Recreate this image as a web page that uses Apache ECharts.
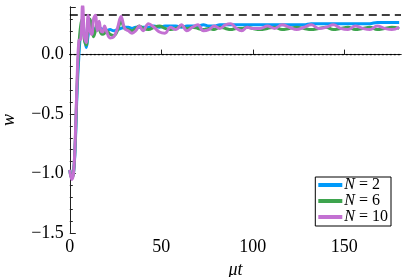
<!DOCTYPE html>
<html><head><meta charset="utf-8">
<script src="https://cdn.jsdelivr.net/npm/echarts@6/dist/echarts.min.js"></script>
<style>html,body{margin:0;padding:0;background:#fff}#c{width:415px;height:277px}</style>
</head><body><div id="c"></div>
<script>
const times = [0,1,2,3,4,5,6,7,8,9,10,11,12,13,14,15,16,17,18,19,20,
22,24,26,28,30,32,34,36,38,40,
43,46,49,52,55,58,61,64,67,70,73,76,79,82,85,88,91,94,97,100,
104,108,112,116,120,124,128,132,136,140,144,148,152,156,160,164,168,172,176,180];
const wN2 = [-0.97,-1.03,-1.0,-0.75,-0.3,0.0,0.2,0.28,0.15,0.06,0.16,0.24,0.23,0.22,0.21,0.21,0.21,0.22,0.21,0.2,0.2,
0.21,0.2,0.21,0.22,0.23,0.23,0.22,0.23,0.23,0.23,
0.23,0.24,0.23,0.24,0.24,0.24,0.23,0.24,0.24,0.24,0.25,0.24,0.24,0.25,0.25,0.25,0.25,0.25,0.25,0.25,
0.25,0.25,0.25,0.25,0.25,0.25,0.25,0.26,0.26,0.26,0.26,0.26,0.26,0.26,0.26,0.26,0.27,0.27,0.27,0.27];
const wN6 = [-0.97,-1.04,-1.0,-0.72,-0.25,0.08,0.25,0.3,0.12,0.08,0.25,0.3,0.22,0.15,0.2,0.27,0.22,0.18,0.17,0.18,0.2,
0.17,0.16,0.2,0.28,0.22,0.21,0.2,0.22,0.24,0.22,
0.21,0.23,0.24,0.22,0.21,0.22,0.24,0.22,0.23,0.22,0.21,0.22,0.21,0.23,0.22,0.21,0.22,0.22,0.23,0.22,
0.21,0.22,0.23,0.21,0.22,0.23,0.22,0.21,0.22,0.23,0.21,0.22,0.23,0.21,0.22,0.23,0.21,0.22,0.23,0.22];
const wN10 = [-0.97,-1.05,-1.0,-0.7,-0.2,0.12,0.13,0.42,0.15,0.1,0.33,0.2,0.17,0.3,0.33,0.2,0.28,0.2,0.19,0.24,0.2,
0.14,0.15,0.22,0.32,0.22,0.2,0.18,0.2,0.24,0.2,
0.26,0.23,0.19,0.18,0.23,0.21,0.25,0.2,0.23,0.25,0.2,0.21,0.24,0.22,0.25,0.26,0.22,0.2,0.23,0.22,
0.22,0.24,0.22,0.25,0.23,0.21,0.23,0.25,0.22,0.23,0.25,0.22,0.21,0.24,0.22,0.21,0.24,0.22,0.21,0.23];
const seriesNames = ['N = 2','N = 6','N = 10'];
const seriesColors = ['#009AFA','#3EA44E','#C371D2'];
const dashedLevel = 1/3;
const dottedLevel = 0;
const xTicks = [0,50,100,150];
const yTicks = [-1.5,-1.0,-0.5,0.0];

const font = "'Liberation Serif', 'DejaVu Serif', serif";
const pair = (arr) => times.map((t,i)=>[t,arr[i]]);
const chart = echarts.init(document.getElementById('c'), null, {renderer:'canvas'});
const allData = [wN2,wN6,wN10];
const lineSeries = allData.map((d,k)=>({
  name: seriesNames[k], type:'line', data: pair(d), showSymbol:false, smooth:0.4,
  lineStyle:{width:3, color:seriesColors[k]}, itemStyle:{color:seriesColors[k]}, z:3+k, clip:true
}));
lineSeries.push({
  type:'line', data:[[0,dashedLevel],[181,dashedLevel]], showSymbol:false, silent:true,
  lineStyle:{color:'#000', width:1.5, type:[8,5]}, z:2
});
lineSeries.push({
  type:'line', data:[[0,dottedLevel],[181,dottedLevel]], showSymbol:false, silent:true,
  lineStyle:{color:'#000', width:1.3, type:[2,2]}, z:2
});
const fmt = v => { const s = v.toFixed(1); return s.replace('-', '\u2212'); };
chart.setOption({
  animation:false,
  grid:{left:69.8, right:14, top:7, bottom:44, containLabel:false, outerBoundsMode:'none'},
  legend:{
    data: seriesNames.map((n,k)=>({name:n})),
    orient:'vertical', right:24, bottom:51, itemWidth:24, itemHeight:4, itemGap:0,
    icon:'rect', borderColor:'#000', borderWidth:1, borderRadius:0, padding:[0,3,1,3],
    backgroundColor:'#fff',
    formatter: n => '{i|N} = ' + n.split('= ')[1],
    textStyle:{fontFamily:font, fontSize:16, lineHeight:13.5, color:'#000', padding:[0,0,0,-3],
      rich:{i:{fontFamily:font, fontStyle:'italic', fontSize:16, lineHeight:13.5}}}
  },
  xAxis:[{
    type:'value', min:0, max:181, interval:50,
    name:'\u03bct', nameLocation:'middle', nameGap:26,
    nameTextStyle:{fontFamily:font, fontStyle:'italic', fontSize:18, color:'#000'},
    axisLine:{show:true, lineStyle:{color:'#222', width:1}},
    axisTick:{show:true, inside:true, length:5, lineStyle:{color:'#222'}},
    axisLabel:{fontFamily:font, fontSize:18, color:'#000', margin:5, showMaxLabel:false,
      formatter: v => xTicks.includes(v) ? String(v) : ''},
    splitLine:{show:false}
  },{
    type:'value', min:0, max:181, position:'top',
    axisLine:{show:true, lineStyle:{color:'#222', width:1}},
    axisTick:{show:false}, axisLabel:{show:false}, splitLine:{show:false}
  }],
  yAxis:[{
    type:'value', min:-1.5, max:0.4, interval:0.5,
    name:'w', nameLocation:'middle', nameGap:52, nameRotate:90,
    nameTextStyle:{fontFamily:font, fontStyle:'italic', fontSize:18, color:'#000'},
    axisLine:{show:true, lineStyle:{color:'#222', width:1}},
    axisTick:{show:true, inside:true, length:6, lineStyle:{color:'#222'}},
    minorTick:{show:true, splitNumber:5, length:3, lineStyle:{color:'#222'}},
    axisLabel:{fontFamily:font, fontSize:18, color:'#000', margin:6, showMaxLabel:false,
      formatter: v => yTicks.some(t=>Math.abs(t-v)<1e-9) ? fmt(v) : ''},
    splitLine:{show:false}
  },{
    type:'value', min:-1.5, max:0.4, position:'right',
    axisLine:{show:true, lineStyle:{color:'#222', width:1}},
    axisTick:{show:false}, axisLabel:{show:false}, splitLine:{show:false}
  }],
  series: lineSeries
});
</script></body></html>
